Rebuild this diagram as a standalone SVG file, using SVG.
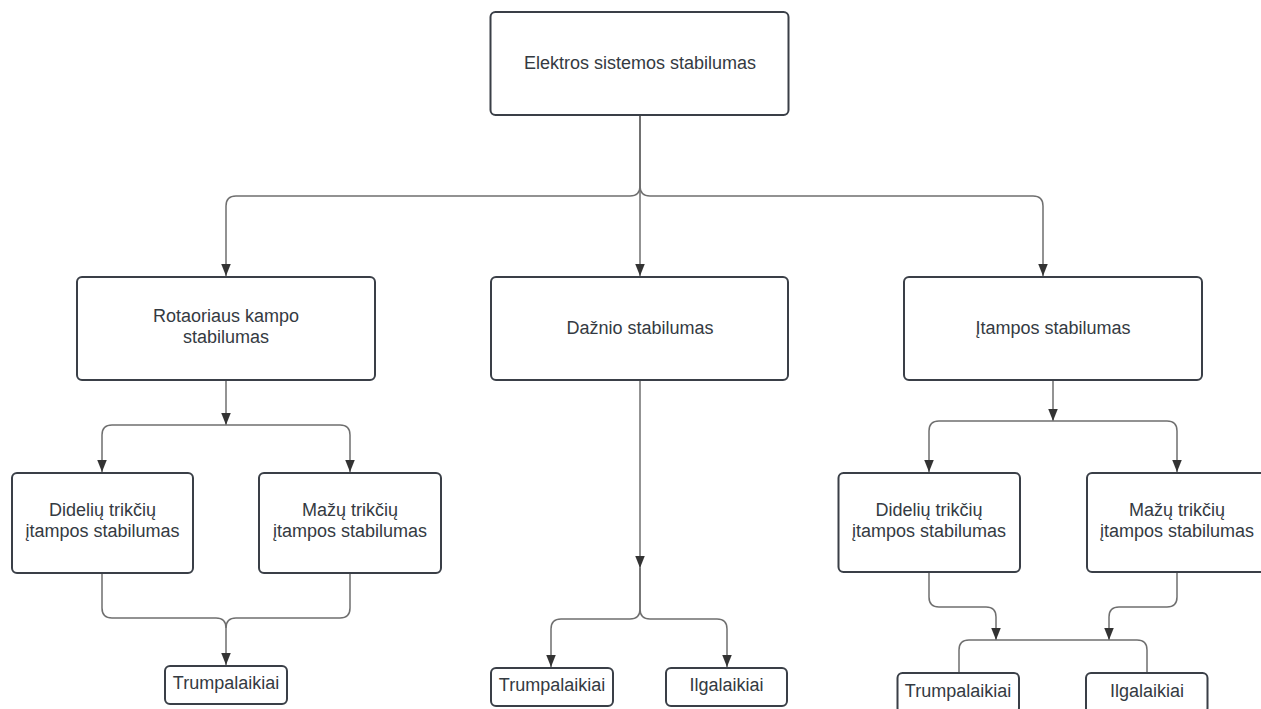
<svg xmlns="http://www.w3.org/2000/svg" width="1261" height="709" viewBox="0 0 1261 709">
  <style>
    .box { fill: #ffffff; stroke: #3a3f47; stroke-width: 2; }
    .lbl { font-family: "Liberation Sans", Arial, sans-serif; font-size: 18px; fill: #343a42; text-anchor: middle; }
    .wire { fill: none; stroke: #6f6f6f; stroke-width: 1.5; }
    .arr { marker-end: url(#tip); }
  </style>
  <defs>
    <marker id="tip" markerUnits="userSpaceOnUse" markerWidth="13" markerHeight="10" refX="12" refY="4.75" orient="auto">
      <path d="M0,0 L12,4.75 L0,9.5 z" fill="#333333"/>
    </marker>
  </defs>
  <rect width="1261" height="709" fill="#ffffff"/>

  <g id="connectors">
    <!-- root to the three stability classes -->
    <path class="wire arr" d="M640,115 V186 Q640,196 630,196 H236 Q226,196 226,206 V276"/>
    <path class="wire arr" d="M640,115 V276"/>
    <path class="wire arr" d="M640,115 V186 Q640,196 650,196 H1033 Q1043,196 1043,206 V276"/>

    <!-- rotor angle branch -->
    <path class="wire arr" d="M226,380 V425"/>
    <path class="wire arr" d="M226,425 H112 Q102,425 102,435 V472"/>
    <path class="wire arr" d="M226,425 H340 Q350,425 350,435 V472"/>
    <path class="wire" d="M102,573 V608 Q102,618 112,618 H216 Q226,618 226,628"/>
    <path class="wire arr" d="M350,573 V608 Q350,618 340,618 H236 Q226,618 226,628 V665"/>

    <!-- frequency branch -->
    <path class="wire arr" d="M640,380 V568"/>
    <path class="wire arr" d="M640,568 V609 Q640,619 630,619 H561 Q551,619 551,629 V667"/>
    <path class="wire arr" d="M640,568 V609 Q640,619 650,619 H717 Q727,619 727,629 V667"/>

    <!-- voltage branch -->
    <path class="wire arr" d="M1053,380 V421"/>
    <path class="wire arr" d="M1053,421 H939 Q929,421 929,431 V472"/>
    <path class="wire arr" d="M1053,421 H1167 Q1177,421 1177,431 V472"/>
    <path class="wire arr" d="M929,572 V597 Q929,607 939,607 H986 Q996,607 996,617 V640"/>
    <path class="wire arr" d="M1177,572 V597 Q1177,607 1167,607 H1119 Q1109,607 1109,617 V640"/>
    <path class="wire" d="M959,673 V650 Q959,640 969,640 H1137 Q1147,640 1147,650 V673"/>
  </g>

  <g id="root">
    <rect class="box" x="490.5" y="12" width="298" height="103" rx="5"/>
    <text class="lbl" x="640" y="68.5">Elektros sistemos stabilumas</text>
  </g>

  <g id="rotor">
    <rect class="box" x="77" y="277" width="298" height="103" rx="5"/>
    <text class="lbl" x="226" y="322">Rotaoriaus kampo</text>
    <text class="lbl" x="226" y="343">stabilumas</text>
  </g>

  <g id="freq">
    <rect class="box" x="491" y="277" width="297" height="103" rx="5"/>
    <text class="lbl" x="640" y="334">Dažnio stabilumas</text>
  </g>

  <g id="volt">
    <rect class="box" x="904" y="277" width="298" height="103" rx="5"/>
    <text class="lbl" x="1053" y="334">Įtampos stabilumas</text>
  </g>

  <g id="rotor-large">
    <rect class="box" x="12" y="473" width="181" height="100" rx="5"/>
    <text class="lbl" x="102.5" y="516">Didelių trikčių</text>
    <text class="lbl" x="102.5" y="537">įtampos stabilumas</text>
  </g>

  <g id="rotor-small">
    <rect class="box" x="259" y="473" width="182" height="100" rx="5"/>
    <text class="lbl" x="350" y="516">Mažų trikčių</text>
    <text class="lbl" x="350" y="537">įtampos stabilumas</text>
  </g>

  <g id="volt-large">
    <rect class="box" x="838.5" y="473" width="181.5" height="99" rx="5"/>
    <text class="lbl" x="929" y="516">Didelių trikčių</text>
    <text class="lbl" x="929" y="537">įtampos stabilumas</text>
  </g>

  <g id="volt-small">
    <rect class="box" x="1087" y="473" width="182" height="99" rx="5"/>
    <text class="lbl" x="1177" y="516">Mažų trikčių</text>
    <text class="lbl" x="1177" y="537">įtampos stabilumas</text>
  </g>

  <g id="rotor-short">
    <rect class="box" x="165" y="666" width="122" height="38" rx="5"/>
    <text class="lbl" x="226" y="688.5">Trumpalaikiai</text>
  </g>

  <g id="freq-short">
    <rect class="box" x="491" y="668" width="122" height="38" rx="5"/>
    <text class="lbl" x="552" y="690.5">Trumpalaikiai</text>
  </g>

  <g id="freq-long">
    <rect class="box" x="666" y="668" width="121" height="38" rx="5"/>
    <text class="lbl" x="726.5" y="690.5">Ilgalaikiai</text>
  </g>

  <g id="volt-short">
    <rect class="box" x="897.5" y="673" width="121.5" height="40" rx="5"/>
    <text class="lbl" x="958" y="697">Trumpalaikiai</text>
  </g>

  <g id="volt-long">
    <rect class="box" x="1086" y="673" width="121.5" height="40" rx="5"/>
    <text class="lbl" x="1147" y="697">Ilgalaikiai</text>
  </g>
</svg>
